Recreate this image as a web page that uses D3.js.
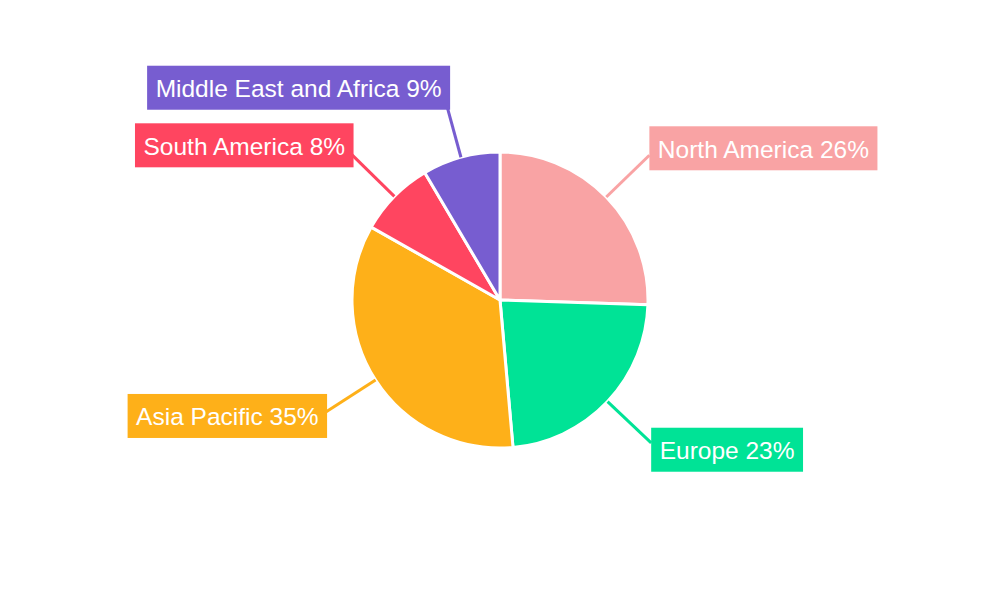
<!DOCTYPE html>
<html><head><meta charset="utf-8">
<script src="https://cdn.jsdelivr.net/npm/d3@7"></script>
<style>body{margin:0;background:#fff}svg{display:block}</style>
</head><body>
<svg id="c" width="1000" height="600"></svg>
<script>
const categories = ["North America", "Europe", "Asia Pacific", "South America", "Middle East and Africa"];
const values = [25.5, 23.1, 34.6, 8.3, 8.5];
const colors = ["#F9A3A4", "#00E396", "#FEB019", "#FF4560", "#775DD0"];

const svg = d3.select("#c");
const cx = 500, cy = 300, R = 148;
const total = d3.sum(values);
const data = categories.map((c, i) => ({name: c, value: values[i], color: colors[i]}));
const pie = d3.pie().value(d => d.value).sort(null);
const arcs = pie(data);
const arc = d3.arc().innerRadius(0).outerRadius(R);
const g = svg.append("g").attr("transform", `translate(${cx},${cy})`);

g.selectAll("path.slice").data(arcs).join("path")
  .attr("class", "slice")
  .attr("d", arc)
  .attr("fill", d => d.data.color)
  .attr("stroke", "#fff").attr("stroke-width", 3).attr("stroke-linejoin", "round");

const lineLen = 60;
arcs.forEach(d => {
  const a = (d.startAngle + d.endAngle) / 2;
  const s = Math.sin(a), c = Math.cos(a);
  const x0 = R * s, y0 = -R * c;
  const x1 = (R + lineLen) * s, y1 = -(R + lineLen) * c;
  g.append("line").attr("x1", x0).attr("y1", y0).attr("x2", x1).attr("y2", y1)
    .attr("stroke", d.data.color).attr("stroke-width", 3);
  const label = `${d.data.name} ${Math.round(d.data.value / total * 100)}%`;
  const lg = g.append("g");
  const rect = lg.append("rect").attr("fill", d.data.color);
  const t = lg.append("text").text(label)
    .attr("font-family", "Liberation Sans, Arial, sans-serif")
    .attr("font-size", 24.5).attr("fill", "#fff")
    .attr("dominant-baseline", "central");
  const w = t.node().getComputedTextLength() + 17;
  const h = 44;
  const right = s >= 0;
  const bx = right ? x1 : x1 - w + (Math.abs(s) < 0.4 ? 5 : 2);
  const by = y1 - 10 * c - h / 2 - (right ? 0 : 2);
  rect.attr("x", bx).attr("y", by).attr("width", w).attr("height", h);
  t.attr("x", bx + 8.5).attr("y", by + h / 2 + 1);
});
</script>
</body></html>
